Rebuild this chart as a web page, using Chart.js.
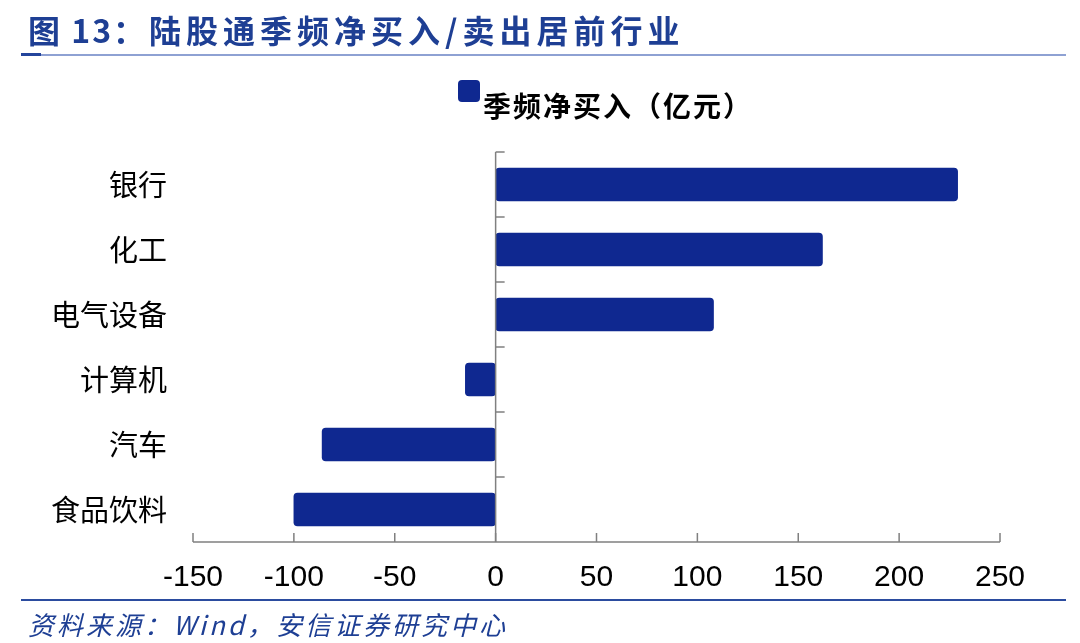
<!DOCTYPE html>
<html>
<head>
<meta charset="utf-8">
<script src="https://cdn.jsdelivr.net/npm/chart.js@4"></script>
<style>
  body { margin: 0; background: #fff; }
  #wrap { position: relative; width: 1080px; height: 643px; overflow: hidden; }
  #chartBox { position: absolute; left: 0; top: 0; width: 1080px; height: 643px; }
  .title {
    position: absolute; left: 28px; top: 7px;
    font: bold 32px "Noto Sans CJK SC", sans-serif;
    color: #1e3f94; white-space: nowrap; line-height: 44px;
  }
  .title .a { letter-spacing: 2px; }
  .title .b { letter-spacing: 5px; margin-left: 2px; }
  .topline { position: absolute; left: 21px; top: 54px; width: 1045px; height: 2px; background: #8ea1d3; }
  .topline span { position: absolute; left: 0; top: -1px; width: 20px; height: 3px; background: #24459c; }
  .botline { position: absolute; left: 21px; top: 599px; width: 1045px; height: 2px; background: #2b4c9f; }
  .source {
    position: absolute; left: 28px; top: 605px;
    font: italic 26px "Noto Sans CJK SC", sans-serif; letter-spacing: 3px;
    color: #1e3f94; white-space: nowrap; line-height: 38px;
  }
  .legend { position: absolute; left: 458px; top: 80px; }
  .legend i { position: absolute; left: 0; top: 0; width: 22px; height: 22px; border-radius: 4px; background: #0f2890; }
  .legend b {
    position: absolute; left: 25px; top: 7px;
    font: bold 28px "Noto Sans CJK SC", sans-serif; letter-spacing: 2px;
    color: #000; white-space: nowrap; line-height: 36px;
  }
</style>
</head>
<body>
<div id="wrap">
  <div id="chartBox"><canvas id="c"></canvas></div>
  <div class="title"><span class="a">图 13：</span><span class="b">陆股通季频净买入/卖出居前行业</span></div>
  <div class="topline"><span></span></div>
  <div class="legend"><i></i><b>季频净买入（亿元）</b></div>
  <div class="botline"></div>
  <div class="source">资料来源：Wind，安信证券研究中心</div>
</div>
<script>
const industries = ['银行', '化工', '电气设备', '计算机', '汽车', '食品饮料'];
const netBuy = [229, 162, 108, -15, -86, -100];
const xTicks = [-150, -100, -50, 0, 50, 100, 150, 200, 250];

const axisGrey = '#808080';

// axis lines and inward tick marks like the original
const axesPlugin = {
  id: 'axesPlugin',
  afterDatasetsDraw(chart) {
    const { ctx, chartArea, scales: { x, y } } = chart;
    ctx.save();
    ctx.strokeStyle = axisGrey;
    ctx.lineWidth = 1.5;

    // x axis line and ticks pointing up
    ctx.beginPath();
    ctx.moveTo(chartArea.left, chartArea.bottom);
    ctx.lineTo(chartArea.right, chartArea.bottom);
    xTicks.forEach(v => {
      const px = x.getPixelForValue(v);
      ctx.moveTo(px, chartArea.bottom);
      ctx.lineTo(px, chartArea.bottom - 9);
    });
    ctx.stroke();

    // y axis at zero, ticks between categories pointing right
    const x0 = x.getPixelForValue(0);
    ctx.beginPath();
    ctx.moveTo(x0, chartArea.top);
    ctx.lineTo(x0, chartArea.bottom);
    const n = industries.length;
    for (let i = 0; i < n; i++) {
      const half = i < n - 1
        ? (y.getPixelForTick(i + 1) - y.getPixelForTick(i)) / 2
        : (y.getPixelForTick(i) - y.getPixelForTick(i - 1)) / 2;
      const edge = y.getPixelForTick(i) - half;
      ctx.moveTo(x0, edge);
      ctx.lineTo(x0 + 9, edge);
    }
    ctx.stroke();
    ctx.restore();
  }
};

new Chart(document.getElementById('c'), {
  type: 'bar',
  data: {
    labels: industries,
    datasets: [{
      label: '季频净买入（亿元）',
      data: netBuy,
      backgroundColor: '#0f2890',
      borderColor: '#0f2890',
      borderWidth: 0,
      borderRadius: 4,
      borderSkipped: false,
      barThickness: 33
    }]
  },
  options: {
    indexAxis: 'y',
    responsive: true,
    maintainAspectRatio: false,
    animation: false,
    layout: { padding: { top: 152, right: 80, bottom: 0, left: 0 } },
    plugins: {
      legend: { display: false },
      tooltip: { enabled: false }
    },
    scales: {
      x: {
        min: -150,
        max: 250,
        afterFit: s => { s.height = 101; },
        afterBuildTicks: s => { s.ticks = xTicks.map(v => ({ value: v })); },
        grid: { display: false, drawTicks: false, tickLength: 0 },
        border: { display: false },
        ticks: {
          padding: 18,
          color: '#000',
          font: { family: '"Liberation Sans", Arial, sans-serif', size: 30 }
        }
      },
      y: {
        afterFit: s => { s.width = 193; },
        grid: { display: false, drawTicks: false, tickLength: 0 },
        border: { display: false },
        ticks: {
          padding: 26,
          color: '#000',
          font: { family: '"Noto Sans CJK SC", sans-serif', size: 29 }
        }
      }
    }
  },
  plugins: [axesPlugin]
});
</script>
</body>
</html>
